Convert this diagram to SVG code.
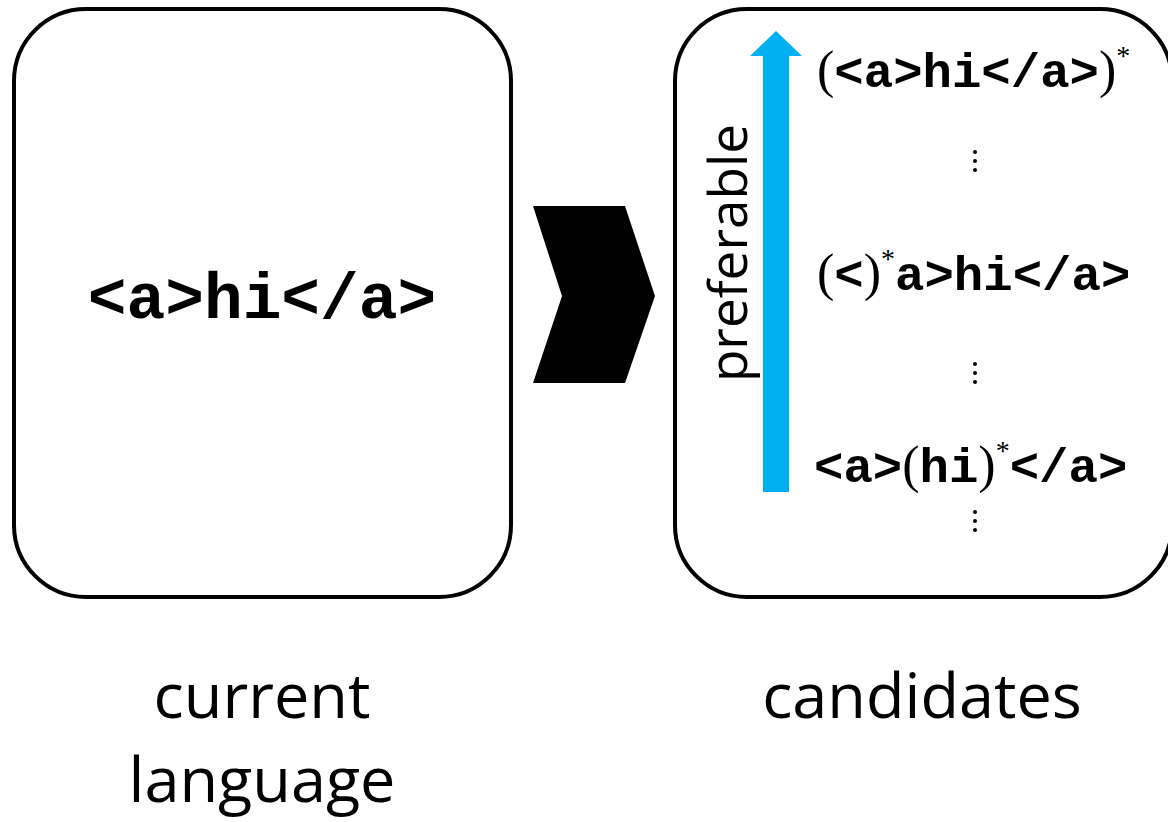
<svg xmlns="http://www.w3.org/2000/svg" width="1168" height="822" viewBox="0 0 1168 822">
<style>
.box{fill:#fff;stroke:#000;stroke-width:4}
.code{font-family:"Liberation Mono",monospace;font-weight:bold;fill:#000}
.par{font-family:"Liberation Serif",serif;fill:#000}
.lbl{font-family:"Open Sans","DejaVu Sans",sans-serif;fill:#000}
.dot{fill:#000}
</style>
<rect width="1168" height="822" fill="#fff"/>
<g id="current">
<rect class="box" x="14" y="9" width="497" height="588" rx="72"/>
<text class="code" x="262" y="318" font-size="64.5" text-anchor="middle">&lt;a&gt;hi&lt;/a&gt;</text>
<text class="lbl" x="262" y="718" font-size="63" text-anchor="middle">current</text>
<text class="lbl" x="262" y="802" font-size="63" text-anchor="middle">language</text>
</g>
<g id="connectors">
<polygon points="533,206 625,206 655,296 625,383 533,383 562,296" fill="#000"/>
</g>
<g id="candidates">
<rect class="box" x="675" y="9" width="497" height="588" rx="72"/>
<text class="lbl" x="922" y="718" font-size="63" text-anchor="middle">candidates</text>
<polygon points="763,492 789,492 789,56 802,56 776,31 750,56 763,56" fill="#00b0f0"/>
<text class="lbl" transform="translate(747,253) rotate(-90)" font-size="53" text-anchor="middle">preferable</text>
<text y="87"><tspan class="par" x="817" font-size="52">(</tspan><tspan class="code" font-size="49">&lt;a&gt;hi&lt;/a&gt;</tspan><tspan class="par" font-size="52">)</tspan><tspan class="par" font-size="28" dy="-22">*</tspan></text>
<text y="290"><tspan class="par" x="817" font-size="52">(</tspan><tspan class="code" font-size="49">&lt;</tspan><tspan class="par" font-size="52">)</tspan><tspan class="par" font-size="28" dy="-22">*</tspan><tspan class="code" font-size="49" dy="22">a&gt;hi&lt;/a&gt;</tspan></text>
<text y="482"><tspan class="code" x="814" font-size="49">&lt;a&gt;</tspan><tspan class="par" font-size="52">(</tspan><tspan class="code" font-size="49">hi</tspan><tspan class="par" font-size="52">)</tspan><tspan class="par" font-size="28" dy="-22">*</tspan><tspan class="code" font-size="49" dy="22">&lt;/a&gt;</tspan></text>
<g class="dot">
<circle cx="975" cy="152" r="2"/><circle cx="975" cy="161" r="2"/><circle cx="975" cy="170" r="2"/>
<circle cx="975" cy="364" r="2"/><circle cx="975" cy="373" r="2"/><circle cx="975" cy="382" r="2"/>
<circle cx="975" cy="512" r="2"/><circle cx="975" cy="521" r="2"/><circle cx="975" cy="530" r="2"/>
</g>
</g>
</svg>
